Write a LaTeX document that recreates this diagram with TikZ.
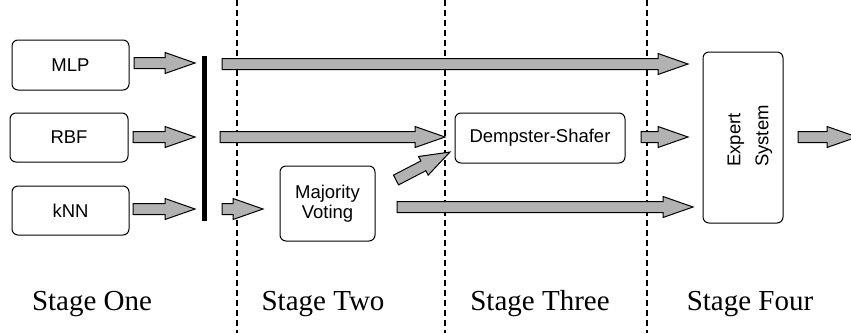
\documentclass[tikz,border=0pt]{standalone}
\usepackage{fontspec}
\setmainfont{Liberation Serif}
\setsansfont{Liberation Sans}
\usetikzlibrary{calc}
\definecolor{arrfill}{gray}{0.70}
\newcommand\blockarrow[2]{%
  \path (#1); \pgfgetlastxy{\baAx}{\baAy}%
  \path (#2); \pgfgetlastxy{\baBx}{\baBy}%
  \pgfmathsetmacro\baAng{atan2(\baBy-\baAy,\baBx-\baAx)}%
  \pgfmathsetmacro\baLen{veclen(\baBx-\baAx,\baBy-\baAy)}%
  \draw[barrow, shift={(#1)}, rotate=\baAng]
    (0,5.5) -- ({\baLen-30},5.5) -- ({\baLen-30},10.5) -- (\baLen,0)
    -- ({\baLen-30},-10.5) -- ({\baLen-30},-5.5) -- (0,-5.5) -- cycle;}
\begin{document}
\begin{tikzpicture}[x=1pt,y=-1pt,
  box/.style={draw, rounded corners=6pt, line width=1pt, inner sep=0pt,
    font=\sffamily\fontsize{18.5}{20}\selectfont, align=center},
  barrow/.style={draw, fill=arrfill, line width=1pt, line join=miter},
  stageline/.style={dash pattern=on 6pt off 4pt, line width=1.2pt},
  stage/.style={font=\rmfamily\fontsize{29}{32}\selectfont, inner sep=0pt, anchor=base}]
\useasboundingbox (0,0) rectangle (851,333);
% stage separators
\draw[stageline] (237,0) -- (237,333);
\draw[stageline] (445,0) -- (445,333);
\draw[stageline] (647,0) -- (647,333);
% boxes
\node[box, minimum width=117, minimum height=50] (mlp) at (70.5,65) {MLP};
\node[box, minimum width=118, minimum height=49] (rbf) at (69,137.5) {RBF};
\node[box, minimum width=117, minimum height=49] (knn) at (70.5,210.5) {kNN};
\node[box, minimum width=95, minimum height=75] (mv) at (327.5,203.5) {Majority\\Voting};
\node[box, minimum width=170, minimum height=50] (ds) at (540,138) {Dempster-Shafer};
\node[box, minimum width=80, minimum height=171] (es) at (743,137.5) {};
\node[rotate=90, align=left, inner sep=0pt,
  font=\sffamily\fontsize{18.5}{28}\selectfont] (est) at (750,136) {Expert\\System};
% combining bar
\node[fill=black, inner sep=0pt, minimum width=5, minimum height=165] (bar) at (204.5,138.5) {};
% stage labels
\node[stage] (s1) at (92,310) {Stage One};
\node[stage] (s2) at (323,310) {Stage Two};
\node[stage] (s3) at (540,310) {Stage Three};
\node[stage] (s4) at (750,310) {Stage Four};
% arrow end points
\coordinate (a1s) at (134,63);  \coordinate (a1e) at (195,63);
\coordinate (a2s) at (133,137); \coordinate (a2e) at (195,137);
\coordinate (a3s) at (133,209); \coordinate (a3e) at (195,209);
\coordinate (a4s) at (222,64);  \coordinate (a4e) at (688,64);
\coordinate (a5s) at (220,137); \coordinate (a5e) at (445,137);
\coordinate (a6s) at (222,209); \coordinate (a6e) at (263,209);
\coordinate (a7s) at (396,180); \coordinate (a7e) at (450,152);
\coordinate (a8s) at (397,207); \coordinate (a8e) at (693,207);
\coordinate (a9s) at (641,137); \coordinate (a9e) at (688,137);
\coordinate (a10s) at (798,137); \coordinate (a10e) at (857,137);
\blockarrow{a1s}{a1e}
\blockarrow{a2s}{a2e}
\blockarrow{a3s}{a3e}
\blockarrow{a4s}{a4e}
\blockarrow{a5s}{a5e}
\blockarrow{a6s}{a6e}
\blockarrow{a7s}{a7e}
\blockarrow{a8s}{a8e}
\blockarrow{a9s}{a9e}
\blockarrow{a10s}{a10e}
\end{tikzpicture}
\end{document}
